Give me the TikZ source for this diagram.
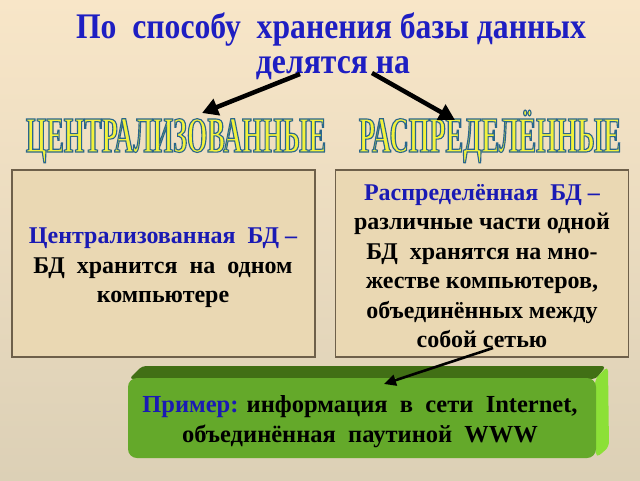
\documentclass[tikz,border=0pt]{standalone}
\usepackage{fontspec}
\usepackage{graphicx}
\setmainfont{Liberation Serif}
\newfontfamily\titlefont[FakeStretch=0.88]{Liberation Serif}
\newfontfamily\wafont[FakeStretch=0.52]{Liberation Serif}
\usetikzlibrary{arrows.meta,calc}
\definecolor{bgtop}{HTML}{F8E6C8}
\definecolor{bgmid}{HTML}{EEDDBF}
\definecolor{bgbot}{HTML}{DCD0B6}
\definecolor{titleblue}{HTML}{1E1EC2}
\definecolor{txtblue}{HTML}{1A1AB4}
\definecolor{parch}{HTML}{EAD8B3}
\definecolor{boxborder}{HTML}{6E604A}
\definecolor{wafill}{HTML}{F2F23C}
\definecolor{gfront}{HTML}{64A92A}
\definecolor{gtop}{HTML}{416F15}
\definecolor{gside}{HTML}{8CE037}
\newcommand\outl[1]{\special{pdf:literal direct 2 Tr 1.1 w 0.16 0.40 0.55 RG}#1\special{pdf:literal direct 0 Tr 1 w}}
\newcommand\waA{\resizebox{300pt}{33pt}{\wafont\bfseries\fontsize{50}{50}\selectfont\raisebox{0pt}[\fontcharht\font`Е][0pt]{\outl{ЦЕНТРАЛИЗОВАННЫЕ}}}}
\newcommand\waB{\resizebox{262pt}{33pt}{\wafont\bfseries\fontsize{50}{50}\selectfont\raisebox{0pt}[\fontcharht\font`Е][0pt]{\outl{РАСПРЕДЕЛЁННЫЕ}}}}
\tikzset{
  titletext/.style={anchor=base, text=titleblue, font=\titlefont\bfseries\fontsize{36}{36}\selectfont, inner sep=0},
  wordart/.style={anchor=base, inner sep=0, text=wafill},
  parchbox/.style={draw=boxborder, line width=1.6pt, fill=parch, inner sep=0},
  boxtext/.style={align=center, font=\bfseries\fontsize{24}{29.5}\selectfont, inner sep=0},
  greentext/.style={align=center, font=\bfseries\fontsize{24.5}{30}\selectfont, inner sep=0},
  bigarrow/.style={line width=4.5pt, -{Triangle[length=16pt,width=17pt]}},
  smallarrow/.style={line width=2.6pt, -{Triangle[length=12pt,width=11pt]}},
}
\begin{document}
\begin{tikzpicture}[x=1pt,y=-1pt]
\useasboundingbox (0,0) rectangle (640,480);
\shade[top color=bgtop, middle color=bgmid, bottom color=bgbot] (0,0) rectangle (640,480);

% title
\node[titletext] (title1) at (331,38) {По~ способу~ хранения базы данных};
\node[titletext] (title2) at (333,73) {делятся на};

% word art
\node[wordart] (wa1) at (176,152) {\waA};
\node[wordart] (wa2) at (490,152) {\waB};

% arrows from title
\coordinate (a1s) at (300,74);
\coordinate (a2s) at (372,73);
\coordinate (a1e) at (202,113);
\coordinate (a2e) at (455,120);
\draw[bigarrow] (a1s) -- (a1e);
\draw[bigarrow] (a2s) -- (a2e);

% boxes
\node[parchbox, minimum width=303pt, minimum height=187pt] (box1) at (163.5,263.5) {};
\node[parchbox, minimum width=293pt, minimum height=187pt] (box2) at (482,263.5) {};
\node[boxtext] (box1text) at (163,268) {\textcolor{txtblue}{Централизованная~ БД –}\\БД~ хранится~ на~ одном\\компьютере};
\node[boxtext] (box2text) at (482,266) {\textcolor{txtblue}{Распределённая~ БД –}\\различные части одной\\БД~ хранятся на мно-\\жестве компьютеров,\\объединённых между\\собой сетью};

% green 3D box
\fill[gtop, rounded corners=4pt] (129,379) -- (142,366) -- (606,366) -- (596,379) -- cycle;
\fill[gside, rounded corners=5pt] (595,379) -- (608,366) -- (609,447) -- (596,458) -- cycle;
\node[fill=gfront, rounded corners=9pt, minimum width=468pt, minimum height=80pt, inner sep=0] (green) at (362,418) {};
\node[greentext] (greentext) at (360,422) {\textcolor{txtblue}{Пример:} информация~ в~ сети~ Internet,\\объединённая~ паутиной~ WWW};

% arrow to example
\coordinate (a3s) at (493,348);
\coordinate (a3e) at (384,384);
\draw[smallarrow] (a3s) -- (a3e);
\end{tikzpicture}
\end{document}
